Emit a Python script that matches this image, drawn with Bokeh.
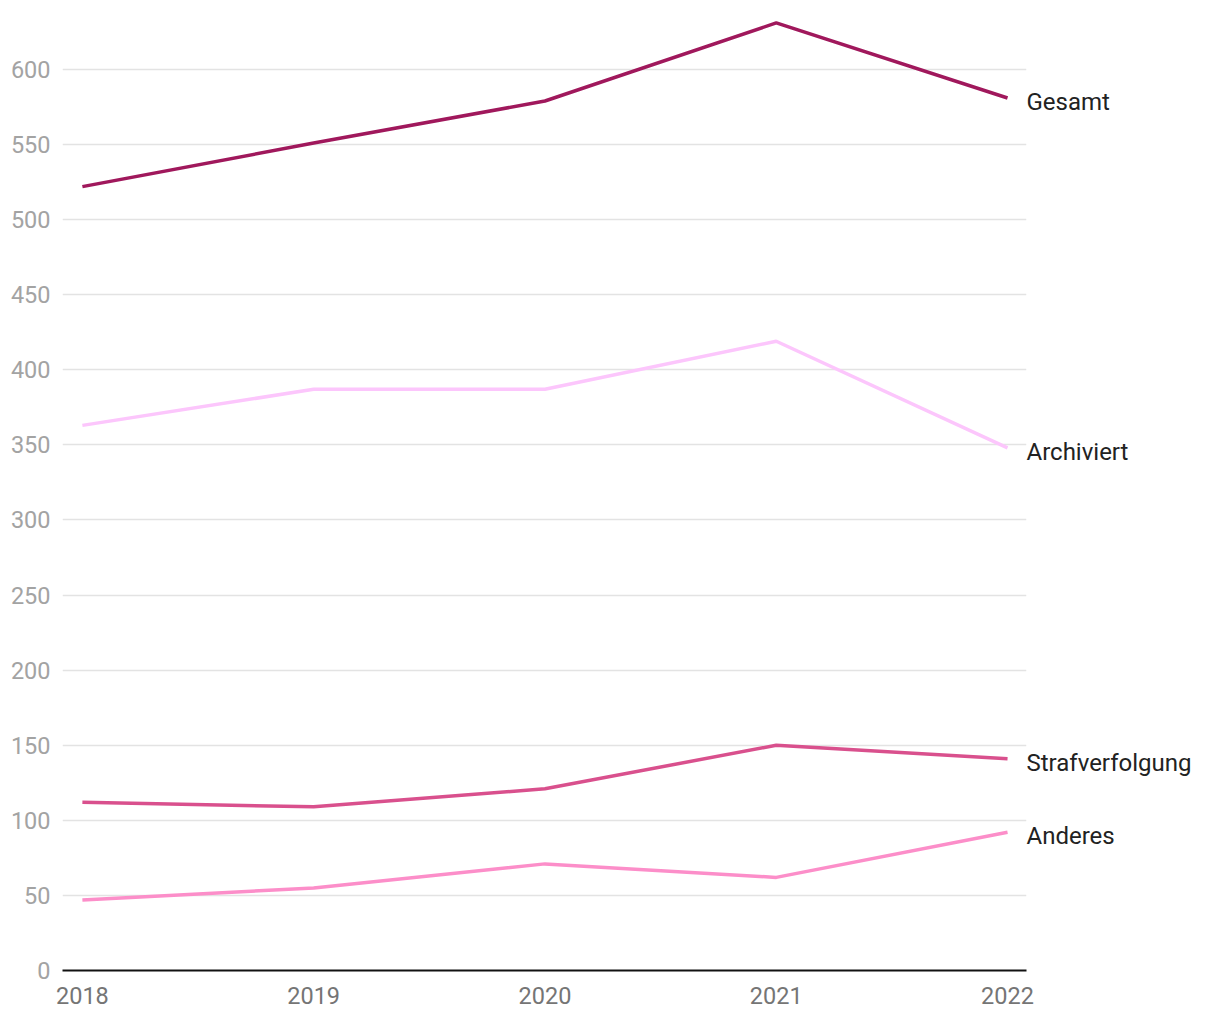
from bokeh.plotting import figure
from bokeh.models import Range1d, FixedTicker, ColumnDataSource, LinearAxis
from bokeh.embed import file_html
from bokeh.resources import INLINE

years = [2018, 2019, 2020, 2021, 2022]
series_names = ["Gesamt", "Archiviert", "Strafverfolgung", "Anderes"]
gesamt = [522, 551, 579, 631, 581]
archiviert = [363, 387, 387, 419, 348]
strafverfolgung = [112, 109, 121, 150, 141]
anderes = [47, 55, 71, 62, 92]
colors = ["#a0185c", "#fcc6fc", "#d9508d", "#fc8ec9"]
y_ticks = list(range(0, 601, 50))

FONT = "Roboto"

p = figure(
    output_backend="svg", toolbar_location=None,
    frame_width=964, frame_height=962,
    min_border_left=62, min_border_right=170, min_border_top=8, min_border_bottom=40,
    x_range=Range1d(2017.914, 2022.082), y_range=Range1d(0, 640.6),
)
p.outline_line_color = None
p.background_fill_color = "white"
p.border_fill_color = "white"

p.xgrid.grid_line_color = None
p.ygrid.grid_line_color = "#e3e3e3"
p.ygrid.grid_line_width = 1.5
p.ygrid.ticker = FixedTicker(ticks=y_ticks)

p.yaxis.ticker = FixedTicker(ticks=y_ticks)
p.yaxis.axis_line_color = None
p.yaxis.major_tick_line_color = None
p.yaxis.minor_tick_line_color = None
p.yaxis.major_tick_out = 0
p.yaxis.major_label_text_font = FONT
p.yaxis.major_label_text_font_size = "23.5px"
p.yaxis.major_label_text_color = "#a3a3a3"
p.yaxis.major_label_standoff = 12

p.xaxis.ticker = FixedTicker(ticks=years)
p.xaxis.axis_line_color = "#111111"
p.xaxis.axis_line_width = 2
p.xaxis.major_tick_line_color = None
p.xaxis.minor_tick_line_color = None
p.xaxis.major_tick_out = 0
p.xaxis.major_label_text_font = FONT
p.xaxis.major_label_text_font_size = "23.5px"
p.xaxis.major_label_text_color = "#757575"
p.xaxis.major_label_standoff = 16

all_series = [gesamt, archiviert, strafverfolgung, anderes]
for name, vals, col in zip(series_names, all_series, colors):
    src = ColumnDataSource(dict(x=years, y=vals))
    p.line("x", "y", source=src, line_color=col, line_width=3.5)

# end-of-line labels as a right-hand axis (slightly shifted range -> label sits a bit below line end)
end_vals = [s[-1] for s in all_series]
p.extra_y_ranges = {"labels": Range1d(2.7, 643.3)}
lab_axis = LinearAxis(y_range_name="labels", ticker=FixedTicker(ticks=end_vals),
                      major_label_overrides={v: n for v, n in zip(end_vals, series_names)})
lab_axis.axis_line_color = None
lab_axis.major_tick_line_color = None
lab_axis.minor_tick_line_color = None
lab_axis.major_tick_out = 0
lab_axis.major_label_standoff = 0
lab_axis.major_label_text_font = FONT
lab_axis.major_label_text_font_size = "24px"
lab_axis.major_label_text_color = "#222222"
p.add_layout(lab_axis, "right")

open("out.html", "w").write(file_html(p, INLINE))
